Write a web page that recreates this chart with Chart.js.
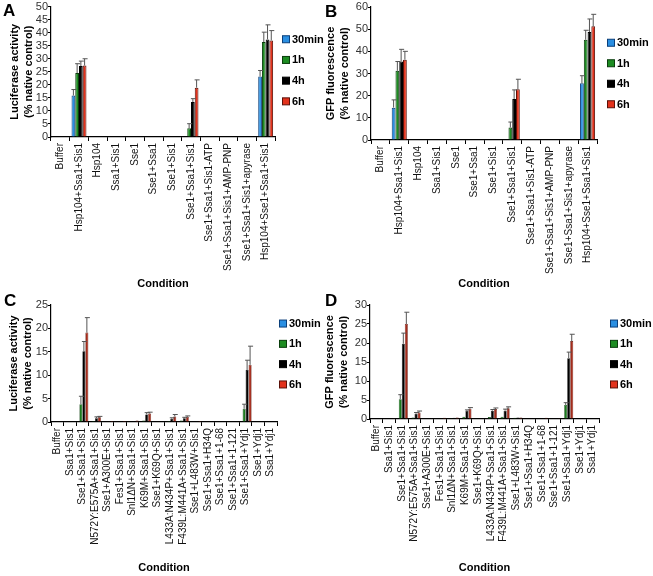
<!DOCTYPE html>
<html>
<head>
<meta charset="utf-8">
<script src="https://cdn.jsdelivr.net/npm/chart.js@4.4.0/dist/chart.umd.min.js"></script>
<style>
  body { margin: 0; background: #fff; }
  #wrap { position: relative; width: 653px; height: 576px; overflow: hidden; font-family: Arial, "Liberation Sans", sans-serif; }
  canvas { position: absolute; }
  .tag { position: absolute; font-weight: bold; font-size: 17px; color: #000; }
</style>
</head>
<body>
<div id="wrap">
  <canvas id="chartA" width="330" height="292" style="left:0;top:0"></canvas>
  <canvas id="chartB" width="331" height="292" style="left:322px;top:0"></canvas>
  <canvas id="chartC" width="330" height="284" style="left:0;top:292px"></canvas>
  <canvas id="chartD" width="331" height="284" style="left:322px;top:292px"></canvas>
  <div class="tag" style="left:3px;top:1px">A</div>
  <div class="tag" style="left:325px;top:2px">B</div>
  <div class="tag" style="left:4px;top:291px">C</div>
  <div class="tag" style="left:325px;top:291px">D</div>
</div>
<script>
/* --- DATA --- */
const timeLabels = ['30min', '1h', '4h', '6h'];

const conditionsAB = [
    'Buffer', 'Hsp104+Ssa1+Sis1', 'Hsp104', 'Ssa1+Sis1', 'Sse1', 'Sse1+Ssa1', 'Sse1+Sis1',
    'Sse1+Ssa1+Sis1', 'Sse1+Ssa1+Sis1-ATP', 'Sse1+Ssa1+Sis1+AMP-PNP',
    'Sse1+Ssa1+Sis1+apyrase', 'Hsp104+Sse1+Ssa1+Sis1'
];
const conditionsCD = [
    'Buffer', 'Ssa1+Sis1', 'Sse1+Ssa1+Sis1', 'N572Y:E575A+Ssa1+Sis1', 'Sse1+A300E+Sis1',
    'Fes1+Ssa1+Sis1', 'Snl1\u0394N+Ssa1+Sis1', 'K69M+Ssa1+Sis1', 'Sse1+K69Q+Sis1',
    'L433A:N434P+Ssa1+Sis1', 'F439L:M441A+Ssa1+Sis1', 'Sse1+L483W+Sis1', 'Sse1+Ssa1+H34Q',
    'Sse1+Ssa1+1-68', 'Sse1+Ssa1+1-121', 'Sse1+Ssa1+Ydj1', 'Sse1+Ydj1', 'Ssa1+Ydj1'
];

// Panel A: luciferase
const lucA30 = [0, 15.9, 0, 0, 0, 0, 0, 0, 0, 0, 0, 23.2];
const lucA1h = [0, 24.5, 0, 0, 0, 0, 0, 3.4, 0, 0, 0, 36.4];
const lucA4h = [0, 27.2, 0, 0, 0, 0, 0, 13.4, 0, 0, 0, 37.4];
const lucA6h = [0, 27.4, 0, 0, 0, 0, 0, 18.9, 0, 0, 0, 37.0];
const errA30 = [0, 2.3, 0, 0, 0, 0, 0, 0, 0, 0, 0, 2.3];
const errA1h = [0, 3.6, 0, 0, 0, 0, 0, 1.7, 0, 0, 0, 3.8];
const errA4h = [0, 1.9, 0, 0, 0, 0, 0, 1.3, 0, 0, 0, 5.6];
const errA6h = [0, 2.6, 0, 0, 0, 0, 0, 3.0, 0, 0, 0, 3.8];

// Panel B: GFP
const gfpB30 = [0, 14.6, 0, 0, 0, 0, 0, 0, 0, 0, 0, 25.6];
const gfpB1h = [0, 31.2, 0, 0, 0, 0, 0, 5.6, 0, 0, 0, 45.2];
const gfpB4h = [0, 35.4, 0, 0, 0.2, 0, 0, 18.5, 0, 0, 0, 48.7];
const gfpB6h = [0, 36.2, 0, 0, 0, 0, 0, 22.9, 0, 0, 0, 51.3];
const errB30 = [0, 3.5, 0, 0, 0, 0, 0, 0, 0, 0, 0, 3.4];
const errB1h = [0, 4.2, 0, 0, 0, 0, 0, 2.5, 0, 0, 0, 4.3];
const errB4h = [0, 5.5, 0, 0, 0, 0, 0, 4.1, 0, 0, 0, 5.9];
const errB6h = [0, 3.8, 0, 0, 0, 0, 0, 4.5, 0, 0, 0, 5.4];

// Panel C: luciferase, mutants
const lucC30 = [0, 0, 0, 0, 0, 0, 0, 0, 0, 0, 0, 0, 0, 0, 0, 0, 0, 0];
const lucC1h = [0, 0.1, 3.8, 0.2, 0, 0.1, 0.1, 0.3, 0, 0.2, 0.3, 0.1, 0, 0, 0, 2.8, 0, 0];
const lucC4h = [0, 0.1, 15.1, 0.8, 0.1, 0.2, 0.2, 1.6, 0, 0.7, 0.8, 0.2, 0.1, 0.1, 0.1, 11.1, 0.1, 0.1];
const lucC6h = [0, 0.1, 19.1, 1.0, 0.2, 0.2, 0.3, 1.8, 0, 1.2, 1.1, 0.2, 0.1, 0.1, 0.1, 12.2, 0.1, 0.1];
const errC1h = [0, 0, 1.7, 0, 0, 0, 0, 0, 0, 0, 0, 0, 0, 0, 0, 1.0, 0, 0];
const errC4h = [0, 0, 2.1, 0.3, 0, 0, 0, 0.4, 0, 0.2, 0.2, 0, 0, 0, 0, 2.1, 0, 0];
const errC6h = [0, 0, 3.2, 0.2, 0, 0, 0, 0.3, 0, 0.4, 0.2, 0, 0, 0, 0, 4.0, 0, 0];

// Panel D: GFP, mutants
const gfpD30 = [0, 0, 0, 0, 0, 0, 0, 0, 0, 0, 0, 0, 0, 0, 0, 0, 0, 0];
const gfpD1h = [0, 0.1, 5.2, 0.4, 0, 0.1, 0.2, 0.6, 0, 0.5, 0.6, 0.3, 0, 0.1, 0.1, 3.7, 0, 0];
const gfpD4h = [0, 0.1, 19.8, 1.4, 0.1, 0.2, 0.3, 2.1, 0, 2.2, 2.2, 0.4, 0, 0.2, 0.2, 16.0, 0.1, 0.1];
const gfpD6h = [0, 0.2, 25.0, 1.7, 0.1, 0.3, 0.4, 2.7, 0, 2.6, 2.8, 0.4, 0, 0.3, 0.2, 20.5, 0.1, 0.1];
const errD1h = [0, 0, 1.2, 0, 0, 0, 0, 0, 0, 0, 0, 0, 0, 0, 0, 0.6, 0, 0];
const errD4h = [0, 0, 2.8, 0.3, 0, 0, 0, 0.3, 0, 0.3, 0.4, 0, 0, 0, 0, 1.6, 0, 0];
const errD6h = [0, 0, 3.1, 0.4, 0, 0, 0, 0.3, 0, 0.3, 0.4, 0, 0, 0, 0, 1.8, 0, 0];

// legend swatches, and bar fills (bottom panels print darker)
const fills = ['#2a8fe2', '#1d8c22', '#000000', '#e2321c'];
const edges = ['#0b3f7a', '#0a3d0c', '#000000', '#5a1008'];
const darkFills = ['#2a8fe2', '#1b7a1e', '#000000', '#a42c1c'];
const FONT = 'Arial, "Liberation Sans", sans-serif';

/* --- PLUGINS --- */
const errorBars = {
    id: 'errorBars',
    afterDatasetsDraw(chart) {
        const ctx = chart.ctx;
        const y = chart.scales.y;
        chart.data.datasets.forEach((ds, i) => {
            if (!ds.errors) return;
            chart.getDatasetMeta(i).data.forEach((bar, j) => {
                const e = ds.errors[j];
                if (!e) return;
                const top = y.getPixelForValue(ds.data[j] + e);
                ctx.save();
                ctx.strokeStyle = '#555';
                ctx.lineWidth = 1;
                ctx.beginPath();
                ctx.moveTo(bar.x, bar.y);
                ctx.lineTo(bar.x, top);
                ctx.moveTo(bar.x - 2, top);
                ctx.lineTo(bar.x + 3, top);
                ctx.stroke();
                ctx.restore();
            });
        });
    }
};

const sideLegend = {
    id: 'sideLegend',
    afterDraw(chart, args, opts) {
        const { ctx, chartArea } = chart;
        const mid = (chartArea.top + chartArea.bottom) / 2 + opts.shift;
        const x = chartArea.right + opts.gapX;
        ctx.save();
        ctx.font = 'bold 11px ' + FONT;
        ctx.textBaseline = 'middle';
        chart.data.datasets.forEach((ds, i) => {
            const cy = mid + (i - 1.5) * opts.step;
            ctx.fillStyle = fills[i];
            ctx.fillRect(x, cy - 3.5, 7, 7);
            ctx.strokeStyle = edges[i];
            ctx.lineWidth = 1;
            ctx.strokeRect(x + 0.5, cy - 3.5, 7, 7);
            ctx.fillStyle = '#000';
            ctx.fillText(ds.label, x + 10, cy + 0.5);
        });
        ctx.restore();
    }
};

/* --- BUILD --- */
function makePanel(id, p) {
    const datasets = p.series.map((data, i) => ({
        label: timeLabels[i],
        data: data,
        errors: p.errors[i],
        backgroundColor: p.barFills[i],
        borderColor: edges[i],
        borderWidth: p.borderWidth,
        categoryPercentage: p.catPct,
        barPercentage: 1.0
    }));

    new Chart(document.getElementById(id), {
        type: 'bar',
        data: { labels: p.labels, datasets: datasets },
        plugins: [errorBars, sideLegend],
        options: {
            responsive: false,
            animation: false,
            devicePixelRatio: 1,
            layout: { padding: { top: p.top, right: p.right, left: 0, bottom: 0 } },
            plugins: {
                legend: { display: false },
                tooltip: { enabled: false },
                sideLegend: p.legend
            },
            scales: {
                x: {
                    afterFit: s => { s.height = p.xHeight; },
                    grid: { drawOnChartArea: false, drawTicks: true, tickLength: 4, color: '#000' },
                    border: { color: '#000', width: 1.2 },
                    ticks: {
                        autoSkip: false, maxRotation: 90, minRotation: 90, padding: 2,
                        color: '#111', font: { family: FONT, size: 10 }
                    },
                    title: {
                        display: true, text: 'Condition', color: '#000',
                        font: { family: FONT, size: 11, weight: 'bold' },
                        padding: { top: 0, bottom: 1 }
                    }
                },
                y: {
                    min: 0, max: p.max,
                    afterFit: s => { s.width = p.yWidth; },
                    grid: { drawOnChartArea: false, drawTicks: true, tickLength: 3, color: '#000' },
                    border: { color: '#000', width: 1.2 },
                    ticks: {
                        stepSize: p.step, autoSkip: false, padding: 0,
                        color: '#333', font: { family: FONT, size: 11 }
                    },
                    title: {
                        display: true, text: p.yTitle, color: '#000',
                        font: { family: FONT, size: 11, weight: 'bold', lineHeight: 1.25 },
                        padding: { top: p.titlePad, bottom: 0 }
                    }
                }
            }
        }
    });
}

makePanel('chartA', {
    labels: conditionsAB,
    series: [lucA30, lucA1h, lucA4h, lucA6h],
    errors: [errA30, errA1h, errA4h, errA6h],
    yTitle: ['Luciferase activity', '(% native control)'],
    max: 50, step: 5,
    top: 6, right: 55, yWidth: 51, xHeight: 155, titlePad: 8,
    catPct: 0.8, borderWidth: 1, barFills: fills,
    legend: { gapX: 7, step: 20.7, shift: -1.5 }
});

makePanel('chartB', {
    labels: conditionsAB,
    series: [gfpB30, gfpB1h, gfpB4h, gfpB6h],
    errors: [errB30, errB1h, errB4h, errB6h],
    yTitle: ['GFP fluorescence', '(% native control)'],
    max: 60, step: 10,
    top: 7, right: 56, yWidth: 49, xHeight: 152, titlePad: 2,
    catPct: 0.8, borderWidth: 1, barFills: fills,
    legend: { gapX: 10, step: 20.5, shift: 0 }
});

makePanel('chartC', {
    labels: conditionsCD,
    series: [lucC30, lucC1h, lucC4h, lucC6h],
    errors: [null, errC1h, errC4h, errC6h],
    yTitle: ['Luciferase activity', '(% native control)'],
    max: 25, step: 5,
    top: 13, right: 53, yWidth: 51, xHeight: 154, titlePad: 7,
    catPct: 0.95, borderWidth: 0.6, barFills: darkFills,
    legend: { gapX: 2, step: 20.3, shift: -9.5 }
});

makePanel('chartD', {
    labels: conditionsCD,
    series: [gfpD30, gfpD1h, gfpD4h, gfpD6h],
    errors: [null, errD1h, errD4h, errD6h],
    yTitle: ['GFP fluorescence', '(% native control)'],
    max: 30, step: 5,
    top: 13, right: 54, yWidth: 48, xHeight: 157, titlePad: 1,
    catPct: 0.95, borderWidth: 0.6, barFills: darkFills,
    legend: { gapX: 11, step: 20.3, shift: -8 }
});
</script>
</body>
</html>
